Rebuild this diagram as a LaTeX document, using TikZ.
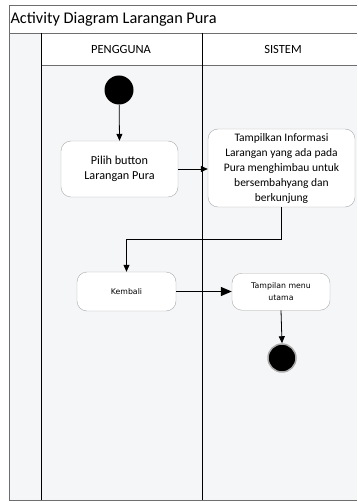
\documentclass[tikz,border=0pt]{standalone}
\usepackage{fontspec}
\setmainfont{Carlito}
\newfontfamily\smallsans{DejaVu Sans}
\usepackage{xcolor}
\definecolor{lanebg}{RGB}{245,246,248}
\definecolor{framegray}{RGB}{110,110,110}
\definecolor{boxgray}{RGB}{170,170,170}
\usetikzlibrary{arrows.meta, positioning}

\begin{document}
\begin{tikzpicture}[x=1pt, y=-1pt,
  act/.style={rectangle, rounded corners=10pt, draw=boxgray, fill=white,
              align=center, inner sep=2pt},
  arr/.style={-{Triangle[length=7pt, width=6pt]}, draw=black, line width=0.8pt},
  lane/.style={draw=black, line width=1pt},
  frame/.style={draw=framegray, line width=0.8pt}
]
\useasboundingbox (0,0) rectangle (357,502);
\fill[white] (0,0) rectangle (357,502);

% Frame and swimlanes
\fill[lanebg] (9,33) rectangle (357,500);
\fill[white] (41,33) rectangle (357,65);
\draw[frame] (9,5) -- (357,5);
\draw[frame] (9,33) -- (357,33);
\draw[frame] (9,5) -- (9,500) -- (357,500);
\draw[frame] (41,65) -- (357,65);
\draw[lane] (41,33) -- (41,500);
\draw[lane] (202,33) -- (202,500);

\node[anchor=west, font=\fontsize{16.3}{18}\selectfont] (title) at (7,19)
  {Activity Diagram Larangan Pura};
\node[font=\fontsize{12.5}{14}\selectfont] (pengguna) at (121,49) {PENGGUNA};
\node[font=\fontsize{12.5}{14}\selectfont] (sistem) at (283,49) {SISTEM};

% Activities
\node[circle, fill=black, minimum size=29pt, inner sep=0pt] (start) at (119,90) {};
\node[act, minimum width=117pt, minimum height=56pt,
      font=\fontsize{12.2}{15}\selectfont] (pilih) at (119.5,169)
  {Pilih button\\Larangan Pura};
\node[act, minimum width=147pt, minimum height=78pt,
      font=\fontsize{11.5}{15}\selectfont] (info) at (281.5,168)
  {Tampilkan Informasi\\Larangan yang ada pada\\Pura menghimbau untuk\\bersembahyang dan\\berkunjung};
\node[act, minimum width=99pt, minimum height=39pt,
      font=\smallsans\fontsize{7.8}{9}\selectfont] (kembali) at (126.5,291.5) {Kembali};
\node[act, minimum width=98pt, minimum height=37pt,
      font=\smallsans\fontsize{7.8}{11.5}\selectfont, anchor=north] (menu) at (281,273)
  {Tampilan menu\\utama};
\node[circle, fill=black, draw=boxgray, line width=1.5pt, minimum size=28pt,
      inner sep=0pt] (end) at (282,358) {};

% Flows
\coordinate (bend) at (info.south |- 0,239);
\draw[arr] (start) -- (pilih.north);
\draw[arr] (pilih.east) -- (pilih.east -| info.west);
\draw[arr] (info.south) -- (bend) -| (kembali.north);
\draw[arr, line width=1.2pt, -{Triangle[length=11pt, width=9pt]}]
  (kembali.east) -- (kembali.east -| menu.west);
\draw[arr] (menu.south) -- (end.north);
\end{tikzpicture}
\end{document}
